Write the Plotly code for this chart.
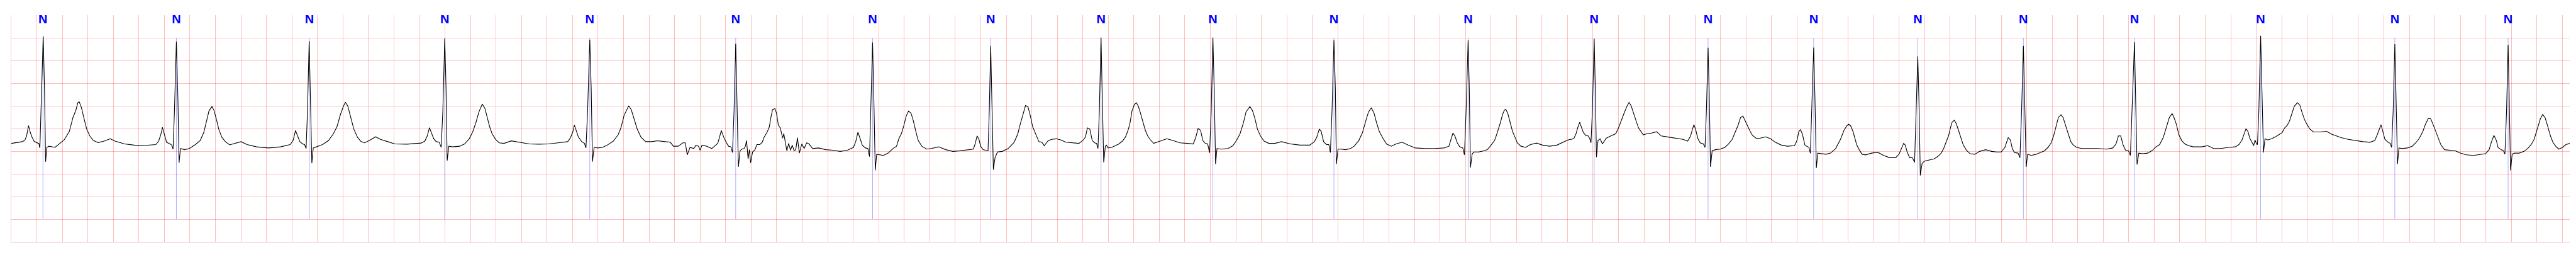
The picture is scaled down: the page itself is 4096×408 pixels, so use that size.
import plotly.graph_objects as go

# ---- beat annotations (time in s) ----
beat_times = [0.248, 1.294, 2.337, 3.398, 4.535, 5.679, 6.752, 7.678, 8.543, 9.420,
              10.369, 11.421, 12.409, 13.302, 14.130, 14.946, 15.774, 16.645, 17.634,
              18.686, 19.574]
beat_labels = ["N", "N", "N", "N", "N", "N", "N", "N", "N", "N", "N",
               "N", "N", "N", "N", "N", "N", "N", "N", "N", "N"]

# ---- ECG trace read from the strip: (time s, amplitude mV) ----
ecg_points = [
    (0.000, 0.172), (0.088, 0.210), (0.107, 0.247), (0.120, 0.336), (0.135, 0.563), (0.149, 0.412),
    (0.164, 0.298), (0.179, 0.215), (0.207, 0.179), (0.216, 0.172), (0.224, 0.071), (0.233, 0.891),
    (0.250, 2.533), (0.260, 1.396), (0.269, -0.232), (0.278, 0.083), (0.295, 0.109), (0.342, 0.083),
    (0.380, 0.172), (0.414, 0.247), (0.455, 0.437), (0.483, 0.740), (0.508, 0.917), (0.521, 1.068),
    (0.532, 1.088), (0.549, 0.967), (0.568, 0.740), (0.591, 0.487), (0.615, 0.336), (0.643, 0.235),
    (0.681, 0.189), (0.728, 0.222), (0.775, 0.273), (0.813, 0.222), (0.888, 0.159), (0.963, 0.134),
    (1.038, 0.126), (1.133, 0.146), (1.155, 0.222), (1.174, 0.386), (1.185, 0.525), (1.198, 0.374),
    (1.217, 0.197), (1.245, 0.159), (1.257, 0.134), (1.268, 0.045), (1.279, 0.891), (1.294, 2.414),
    (1.306, 1.144), (1.315, -0.258), (1.326, 0.058), (1.358, 0.033), (1.396, 0.058), (1.443, 0.146),
    (1.481, 0.235), (1.509, 0.412), (1.532, 0.689), (1.550, 0.891), (1.573, 0.985), (1.590, 0.891),
    (1.609, 0.689), (1.626, 0.487), (1.650, 0.311), (1.678, 0.210), (1.712, 0.139), (1.763, 0.184),
    (1.801, 0.210), (1.848, 0.146), (1.923, 0.096), (2.017, 0.071), (2.111, 0.096), (2.186, 0.146),
    (2.209, 0.235), (2.228, 0.455), (2.243, 0.336), (2.262, 0.210), (2.284, 0.159), (2.299, 0.146),
    (2.311, 0.058), (2.322, 0.891), (2.335, 2.427), (2.346, 1.144), (2.356, -0.265), (2.367, 0.071),
    (2.393, 0.096), (2.440, 0.146), (2.487, 0.235), (2.525, 0.386), (2.553, 0.538), (2.581, 0.816),
    (2.604, 0.992), (2.619, 1.081), (2.638, 0.992), (2.660, 0.740), (2.685, 0.487), (2.713, 0.311),
    (2.741, 0.215), (2.770, 0.184), (2.807, 0.235),
    (2.856, 0.316), (2.894, 0.260), (2.951, 0.210), (3.007, 0.159), (3.101, 0.154), (3.214, 0.179),
    (3.242, 0.222), (3.261, 0.336), (3.278, 0.518), (3.293, 0.412), (3.312, 0.273), (3.331, 0.210),
    (3.355, 0.197), (3.370, 0.083), (3.383, 0.891), (3.398, 2.482), (3.408, 1.396), (3.417, -0.207),
    (3.430, 0.109), (3.459, 0.096), (3.515, 0.109), (3.553, 0.159), (3.590, 0.273), (3.619, 0.437),
    (3.643, 0.639), (3.666, 0.866), (3.692, 1.038), (3.713, 0.942), (3.731, 0.740), (3.750, 0.538),
    (3.769, 0.386), (3.797, 0.260), (3.825, 0.184), (3.863, 0.172), (3.920, 0.227), (3.985, 0.197),
    (4.061, 0.159), (4.136, 0.154), (4.211, 0.159), (4.286, 0.184), (4.362, 0.210), (4.384, 0.298),
    (4.403, 0.437), (4.414, 0.576), (4.429, 0.437), (4.446, 0.311), (4.471, 0.210), (4.493, 0.172),
    (4.505, 0.071), (4.518, 0.891), (4.535, 2.457), (4.546, 1.396), (4.556, -0.232), (4.569, 0.083),
    (4.597, 0.071), (4.635, 0.083), (4.672, 0.134), (4.719, 0.222), (4.757, 0.361), (4.779, 0.513),
    (4.804, 0.790), (4.840, 1.000), (4.860, 0.917), (4.885, 0.689), (4.907, 0.487), (4.936, 0.311),
    (4.973, 0.210), (5.020, 0.210), (5.067, 0.230), (5.124, 0.210), (5.167, 0.197), (5.190, 0.109),
    (5.227, 0.109), (5.265, 0.184), (5.284, 0.184), (5.299, -0.081), (5.321, 0.083), (5.350, 0.058),
    (5.368, 0.134), (5.387, 0.109), (5.400, 0.020), (5.415, 0.134), (5.453, 0.109), (5.491, 0.058),
    (5.519, 0.134), (5.538, 0.172), (5.551, 0.298), (5.566, 0.455), (5.585, 0.311), (5.604, 0.197),
    (5.623, 0.109), (5.641, 0.096), (5.654, -0.030), (5.666, 0.891), (5.679, 2.369), (5.690, 1.144),
    (5.700, -0.346), (5.713, 0.008),
    (5.727, 0.045), (5.745, 0.058), (5.755, 0.109), (5.764, 0.235), (5.776, -0.169), (5.787, 0.033),
    (5.796, -0.258), (5.811, -0.018), (5.830, 0.033), (5.845, 0.146), (5.868, 0.146), (5.887, 0.197),
    (5.900, 0.298), (5.924, 0.412), (5.943, 0.538), (5.952, 0.702), (5.968, 0.917), (5.986, 0.937),
    (5.999, 0.841), (6.013, 0.576), (6.028, 0.513), (6.037, 0.412), (6.047, 0.285), (6.056, 0.386),
    (6.069, 0.197), (6.080, 0.008), (6.094, 0.172), (6.109, 0.020), (6.122, 0.134), (6.137, 0.008),
    (6.150, 0.033), (6.163, 0.298), (6.178, -0.043), (6.197, 0.159), (6.216, 0.058), (6.235, 0.184),
    (6.254, 0.159), (6.282, 0.058), (6.329, 0.071), (6.385, 0.033), (6.442, 0.020), (6.498, -0.005),
    (6.555, 0.020), (6.602, 0.083), (6.620, 0.210), (6.637, 0.417), (6.652, 0.298), (6.671, 0.134),
    (6.696, 0.071), (6.715, 0.058), (6.728, -0.119), (6.739, 0.891), (6.752, 2.394), (6.762, 1.144),
    (6.773, -0.422), (6.784, -0.068), (6.809, -0.081), (6.837, -0.093), (6.874, -0.043), (6.912, 0.058),
    (6.940, 0.109), (6.959, 0.285), (6.978, 0.386), (6.997, 0.563), (7.016, 0.778), (7.034, 0.884),
    (7.053, 0.841), (7.072, 0.664), (7.091, 0.437), (7.110, 0.235), (7.138, 0.109), (7.176, 0.045),
    (7.213, 0.058), (7.270, 0.096), (7.326, 0.033), (7.382, -0.005), (7.439, 0.008), (7.495, 0.033),
    (7.542, 0.045), (7.556, 0.159), (7.571, 0.336), (7.586, 0.260), (7.599, 0.109), (7.618, 0.033),
    (7.646, 0.020), (7.657, 0.008), (7.667, 0.891), (7.678, 2.318), (7.687, 1.144), (7.699, -0.409),
    (7.712, -0.144), (7.731, -0.018), (7.768, -0.005), (7.815, 0.058), (7.862, 0.197), (7.891, 0.386),
    (7.909, 0.588), (7.932, 0.816), (7.951, 1.005), (7.970, 0.980), (7.988, 0.790), (8.007, 0.538),
    (8.032, 0.361), (8.056, 0.210), (8.079, 0.197), (8.098, 0.121), (8.126, 0.222), (8.154, 0.260),
    (8.192, 0.273), (8.229, 0.247), (8.267, 0.197), (8.323, 0.184), (8.370, 0.172), (8.402, 0.240),
    (8.421, 0.311), (8.436, 0.513), (8.455, 0.487), (8.474, 0.235), (8.493, 0.184), (8.508, 0.172),
    (8.519, 0.058), (8.530, 0.891), (8.543, 2.508), (8.553, 1.144), (8.564, -0.245), (8.577, 0.109),
    (8.585, 0.134), (8.598, 0.071), (8.626, 0.083), (8.655, 0.121), (8.683, 0.159), (8.711, 0.222),
    (8.734, 0.311), (8.752, 0.437), (8.768, 0.588), (8.786, 0.891), (8.805, 1.030), (8.820, 1.068),
    (8.835, 0.992), (8.852, 0.841), (8.871, 0.639), (8.890, 0.462), (8.909, 0.336), (8.927, 0.260),
    (8.956, 0.172), (9.003, 0.222), (9.059, 0.273), (9.106, 0.235), (9.163, 0.184), (9.219, 0.172),
    (9.266, 0.159), (9.285, 0.298), (9.304, 0.500), (9.323, 0.462), (9.341, 0.235), (9.360, 0.172),
    (9.379, 0.159), (9.394, -0.038), (9.407, 0.891), (9.420, 2.508), (9.430, 1.396), (9.441, -0.283),
    (9.452, 0.058), (9.483, 0.045), (9.539, 0.058), (9.577, 0.121), (9.605, 0.235), (9.633, 0.386),
    (9.658, 0.614), (9.680, 0.866), (9.710, 0.982), (9.731, 0.891), (9.750, 0.715), (9.769, 0.487),
    (9.793, 0.336), (9.821, 0.222), (9.859, 0.172), (9.906, 0.172), (9.957, 0.210), (10.028, 0.159),
    (10.104, 0.134), (10.179, 0.134), (10.216, 0.210), (10.235, 0.311), (10.254, 0.487), (10.269, 0.437),
    (10.288, 0.210), (10.310, 0.146), (10.329, 0.146), (10.341, -0.030), (10.354, 0.891), (10.369, 2.444),
    (10.380, 1.396), (10.388, -0.283), (10.401, 0.045), (10.423, 0.045), (10.461, 0.033), (10.499, 0.058),
    (10.527, 0.109), (10.564, 0.235), (10.593, 0.412), (10.621, 0.689), (10.640, 0.866), (10.662, 0.955),
    (10.683, 0.841), (10.702, 0.639), (10.724, 0.437), (10.753, 0.285), (10.781, 0.159), (10.818, 0.109),
    (10.856, 0.159), (10.903, 0.197), (10.950, 0.134), (11.007, 0.071), (11.082, 0.058), (11.157, 0.058),
    (11.232, 0.071), (11.270, 0.109), (11.285, 0.235), (11.302, 0.399), (11.317, 0.336), (11.336, 0.184),
    (11.355, 0.096), (11.379, 0.071), (11.392, -0.081), (11.405, 0.891), (11.421, 2.444), (11.430, 1.396),
    (11.439, -0.359), (11.453, -0.056),
    (11.468, -0.018), (11.505, -0.018), (11.543, 0.008), (11.571, 0.033), (11.590, 0.096), (11.609, 0.159),
    (11.628, 0.235), (11.641, 0.336), (11.656, 0.462), (11.675, 0.639), (11.690, 0.803), (11.705, 0.904),
    (11.716, 0.922), (11.731, 0.841), (11.750, 0.639), (11.769, 0.437), (11.788, 0.311), (11.806, 0.184),
    (11.835, 0.109), (11.872, 0.083), (11.910, 0.146), (11.957, 0.179), (12.004, 0.134), (12.060, 0.109),
    (12.117, 0.134), (12.164, 0.197), (12.202, 0.247), (12.249, 0.273), (12.267, 0.386), (12.281, 0.525),
    (12.296, 0.639), (12.311, 0.513), (12.324, 0.412), (12.343, 0.348), (12.362, 0.336), (12.375, 0.273),
    (12.384, 0.184), (12.395, 0.891), (12.409, 2.477), (12.418, 1.396), (12.427, -0.131), (12.439, 0.235),
    (12.456, 0.273), (12.474, 0.159), (12.503, 0.285), (12.540, 0.336), (12.578, 0.386), (12.600, 0.513),
    (12.619, 0.664), (12.644, 0.841), (12.668, 1.005), (12.683, 1.076), (12.700, 0.992), (12.719, 0.816),
    (12.738, 0.664), (12.757, 0.513), (12.776, 0.437), (12.794, 0.361), (12.823, 0.386), (12.860, 0.399),
    (12.898, 0.429), (12.935, 0.336), (12.992, 0.311), (13.048, 0.285), (13.105, 0.260), (13.142, 0.222),
    (13.165, 0.336), (13.180, 0.487), (13.191, 0.583), (13.204, 0.487), (13.221, 0.285), (13.240, 0.184),
    (13.265, 0.159), (13.278, 0.083), (13.289, 0.891), (13.302, 2.280), (13.312, 1.144), (13.321, -0.346),
    (13.334, 0.008), (13.359, 0.033), (13.396, 0.045), (13.434, 0.083), (13.462, 0.159), (13.491, 0.260),
    (13.519, 0.437), (13.538, 0.576), (13.556, 0.740), (13.575, 0.778), (13.594, 0.664), (13.613, 0.538),
    (13.632, 0.437), (13.650, 0.348), (13.679, 0.285), (13.707, 0.285), (13.754, 0.316), (13.792, 0.273),
    (13.829, 0.197), (13.876, 0.134), (13.923, 0.109), (13.980, 0.121), (13.999, 0.235), (14.014, 0.437),
    (14.027, 0.475), (14.042, 0.374), (14.061, 0.134), (14.083, 0.096), (14.093, 0.083), (14.104, -0.048),
    (14.115, 0.891), (14.130, 2.285), (14.140, 1.144), (14.151, -0.371), (14.162, -0.043), (14.187, -0.056),
    (14.224, -0.068), (14.262, -0.043),
    (14.302, 0.058), (14.340, 0.260), (14.368, 0.462), (14.391, 0.563), (14.404, 0.593), (14.419, 0.563),
    (14.438, 0.437), (14.453, 0.285), (14.468, 0.134), (14.487, 0.033), (14.509, -0.068), (14.537, -0.081),
    (14.584, -0.043), (14.631, -0.023), (14.678, -0.093), (14.726, -0.144), (14.773, -0.144), (14.801, -0.056),
    (14.820, 0.083), (14.835, 0.172), (14.848, 0.134), (14.863, -0.018), (14.882, -0.144), (14.904, -0.144),
    (14.921, -0.245), (14.932, 0.891), (14.946, 2.091), (14.955, 1.144), (14.966, -0.535), (14.980, -0.270),
    (14.998, -0.220), (15.036, -0.194), (15.074, -0.169), (15.102, -0.119), (15.130, -0.043), (15.149, 0.058),
    (15.168, 0.210), (15.187, 0.336), (15.202, 0.513), (15.215, 0.639), (15.232, 0.682), (15.247, 0.614),
    (15.265, 0.462), (15.284, 0.285), (15.303, 0.134), (15.328, 0.020), (15.356, -0.056), (15.393, -0.068),
    (15.431, -0.005), (15.478, 0.033), (15.525, -0.005), (15.563, -0.018), (15.600, -0.018), (15.629, 0.083),
    (15.642, 0.184), (15.655, 0.298), (15.672, 0.247), (15.687, 0.058), (15.704, -0.030), (15.732, -0.043),
    (15.747, -0.144), (15.760, 0.891), (15.774, 2.323), (15.785, 1.144), (15.796, -0.346), (15.807, -0.068),
    (15.836, -0.093), (15.873, -0.068), (15.911, -0.030), (15.939, 0.008), (15.967, 0.083), (15.992, 0.184),
    (16.011, 0.336), (16.029, 0.538), (16.048, 0.740), (16.069, 0.803), (16.086, 0.740), (16.105, 0.563),
    (16.127, 0.386), (16.146, 0.210), (16.165, 0.134), (16.193, 0.083), (16.231, 0.058), (16.297, 0.058),
    (16.353, 0.058), (16.428, 0.045), (16.475, 0.071), (16.500, 0.159), (16.519, 0.336), (16.537, 0.336),
    (16.556, 0.134), (16.575, 0.020), (16.598, 0.008), (16.613, -0.093), (16.626, 0.891), (16.645, 2.402),
    (16.654, 1.144), (16.665, -0.295), (16.679, -0.043), (16.711, -0.056), (16.748, -0.043), (16.786, 0.020),
    (16.814, 0.096), (16.842, 0.146), (16.870, 0.298), (16.895, 0.538), (16.918, 0.740), (16.940, 0.828),
    (16.955, 0.740), (16.974, 0.588), (16.993, 0.361), (17.015, 0.235), (17.040, 0.159), (17.068, 0.121),
    (17.106, 0.096), (17.143, 0.096),
    (17.172, 0.096), (17.219, 0.121), (17.266, 0.058), (17.323, 0.058), (17.379, 0.083), (17.436, 0.096),
    (17.464, 0.146), (17.488, 0.247), (17.504, 0.386), (17.519, 0.495), (17.534, 0.437), (17.549, 0.285),
    (17.564, 0.210), (17.579, 0.121), (17.590, 0.247), (17.602, 0.159), (17.609, 0.146), (17.620, 0.891),
    (17.634, 2.545), (17.645, 1.144), (17.656, -0.030), (17.668, 0.273), (17.690, 0.247), (17.719, 0.273),
    (17.747, 0.311), (17.775, 0.361), (17.803, 0.412), (17.822, 0.513), (17.841, 0.563), (17.860, 0.664),
    (17.879, 0.841), (17.898, 0.992), (17.922, 1.068), (17.941, 1.018), (17.960, 0.841), (17.979, 0.689),
    (17.998, 0.588), (18.020, 0.487), (18.048, 0.424), (18.096, 0.424), (18.152, 0.437), (18.190, 0.374),
    (18.228, 0.336), (18.265, 0.298), (18.322, 0.260), (18.378, 0.235), (18.435, 0.210), (18.492, 0.197),
    (18.529, 0.235), (18.548, 0.361), (18.567, 0.513), (18.578, 0.583), (18.592, 0.437), (18.608, 0.260),
    (18.633, 0.197), (18.650, 0.172), (18.661, 0.083), (18.673, 0.891), (18.686, 2.361), (18.697, 1.144),
    (18.707, -0.283), (18.718, 0.071), (18.746, 0.058), (18.784, 0.071), (18.822, 0.109), (18.850, 0.184),
    (18.878, 0.285), (18.906, 0.437), (18.925, 0.588), (18.948, 0.720), (18.967, 0.715), (18.986, 0.588),
    (19.004, 0.462), (19.029, 0.260), (19.048, 0.134), (19.076, 0.033), (19.114, 0.020), (19.161, 0.008),
    (19.199, -0.043), (19.246, -0.081), (19.302, -0.093), (19.359, -0.068), (19.397, -0.056), (19.425, 0.033),
    (19.444, 0.210), (19.463, 0.348), (19.482, 0.235), (19.495, 0.083), (19.519, 0.033), (19.538, 0.008),
    (19.549, -0.068), (19.562, 0.891), (19.574, 2.343), (19.583, 1.144), (19.593, -0.422), (19.606, -0.068),
    (19.623, -0.043), (19.661, -0.043), (19.698, -0.005), (19.727, 0.058), (19.755, 0.146), (19.778, 0.260),
    (19.802, 0.487), (19.827, 0.715), (19.845, 0.808), (19.864, 0.740), (19.883, 0.563), (19.906, 0.336),
    (19.925, 0.197), (19.947, 0.109), (19.972, 0.045), (20.000, 0.083), (20.028, 0.146), (20.057, 0.172),
]
ecg_time = [p[0] for p in ecg_points]
ecg_mv = [p[1] for p in ecg_points]

# ---- axis extents / styling constants ----
X_RANGE = [0.0, 20.057]
Y_RANGE = [-2.0, 3.0]
ANN_LOW, ANN_HIGH = -1.5, 2.5
LABEL_LEVEL = 2.89
GRID = "rgba(255,0,0,0.25)"

fig = go.Figure()

lx, ly = [], []
for t in beat_times:
    lx += [t, t, None]
    ly += [ANN_LOW, ANN_HIGH, None]
fig.add_trace(go.Scatter(x=lx, y=ly, mode="lines",
                         line=dict(color="rgba(0,0,255,0.55)", width=0.6),
                         hoverinfo="skip", showlegend=False))

fig.add_trace(go.Scatter(x=ecg_time, y=ecg_mv, mode="lines",
                         line=dict(color="black", width=1.1),
                         showlegend=False))

fig.add_trace(go.Scatter(x=beat_times, y=[LABEL_LEVEL] * len(beat_times), mode="text",
                         text=beat_labels, textposition="middle center",
                         textfont=dict(family="Liberation Sans, Arial, sans-serif", size=20,
                                       color="#0000ff", weight="bold"),
                         hoverinfo="skip", showlegend=False))

fig.update_layout(width=4096, height=408,
                  margin=dict(l=18, r=10, t=24, b=24),
                  paper_bgcolor="white", plot_bgcolor="white",
                  showlegend=False)
fig.update_xaxes(range=X_RANGE, tick0=0, dtick=0.2, showgrid=True, gridcolor=GRID, gridwidth=1,
                 showline=True, linecolor=GRID, linewidth=1, zeroline=False,
                 showticklabels=False, ticks="")
fig.update_yaxes(range=Y_RANGE, tick0=0, dtick=0.5, showgrid=True, gridcolor=GRID, gridwidth=1,
                 showline=True, linecolor=GRID, linewidth=1, zeroline=False,
                 showticklabels=False, ticks="")

fig.write_html("out.html", config={"displayModeBar": False},
               post_script="document.body.style.margin='0';document.body.style.overflow='hidden';")
